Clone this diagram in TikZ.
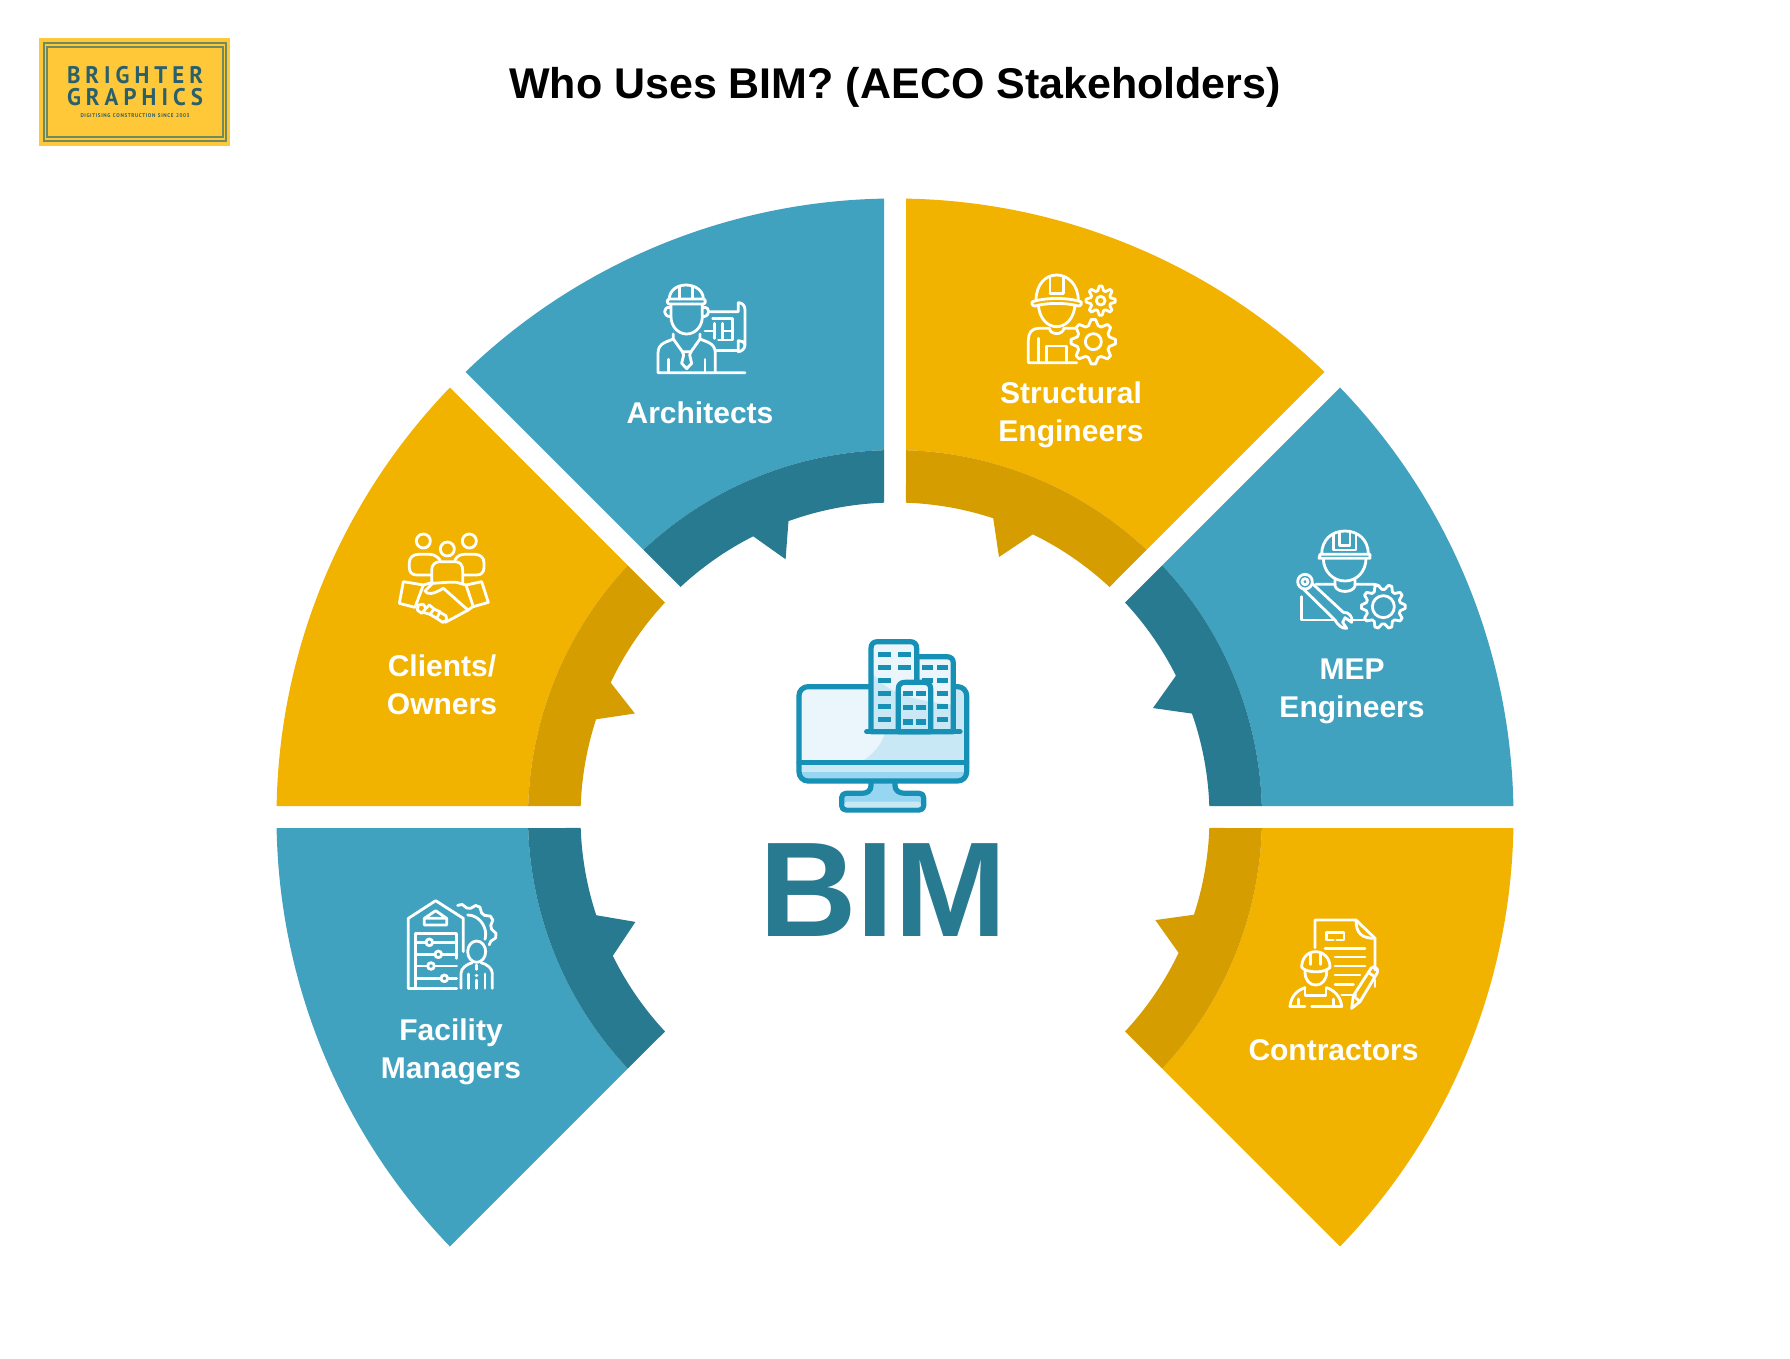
\documentclass[tikz,border=0pt]{standalone}
\usepackage{fontspec}
\setmainfont{Liberation Sans}
\newfontfamily\logofont[FakeStretch=0.95]{PT Sans}
\definecolor{gold}{HTML}{F2B200}
\definecolor{golddark}{HTML}{D69D00}
\definecolor{teal}{HTML}{41A2BF}
\definecolor{tealdark}{HTML}{287A91}
\definecolor{logobg}{HTML}{FFC838}
\definecolor{logoink}{HTML}{2A5F6C}
\definecolor{logoline}{HTML}{6F8A5F}
\definecolor{monink}{HTML}{1790B5}
\definecolor{monlight}{HTML}{EAF6FC}
\definecolor{monmid}{HTML}{C8E8F5}
\definecolor{monblue}{HTML}{97D6F0}
\tikzset{
  icon/.style={draw=white,line width=#1,line cap=round,line join=round,fill=none},
  icon/.default=2.8pt,
  crop/.style={x=0.33333pt,y=-0.33333pt},
  label/.style={font=\fontsize{30}{38}\selectfont\bfseries,text=white,align=center,inner sep=0pt},
  monline/.style={draw=monink,line width=5.2pt,line cap=round,line join=round},
}
% start, end, spike start, spike tip, spike end, light, dark
\newcommand\sectorshape[7]{%
  \fill[#6] ({#1+1.02}:618.5) arc[start angle={#1+1.02},end angle={#2-1.02},radius=618.5]
     -- ({#2-1.72}:367) arc[start angle={#2-1.72},end angle={#1+1.72},radius=367] -- cycle;
  \fill[#7] ({#1+1.72}:367) arc[start angle={#1+1.72},end angle={#2-1.72},radius=367]
     -- ({#2-2}:314.5) arc[start angle={#2-2},end angle={#5},radius=314.5]
     -- ({#4}:280) -- ({#3}:314.5) arc[start angle={#3},end angle={#1+2},radius=314.5] -- cycle;
}
% cx cy outer inner teeth rotation
\newcommand\gearicon[6]{%
  \pgfmathtruncatemacro\gearN{4*#5-1}%
  \pgfmathsetmacro\gearS{90/#5}%
  \begin{scope}[shift={(#1,#2)}]
  \draw[icon] plot[samples at={0,...,\gearN}] ({#6+\x*\gearS}:{ifthenelse(mod(\x,4)<1.5,#3,#4)}) -- cycle;
  \end{scope}}
\newcommand\bldshape[1]{%
  \begin{scope}\clip #1;
    \fill[monlight] #1;
    \fill[monmid] (300,150) -- (333,150) .. controls (360,200) and (420,240) .. (590,255) -- (590,345) -- (300,345) -- cycle;
  \end{scope}
  \draw[monline,fill=none] #1;}
\begin{document}
\begin{tikzpicture}[x=1pt,y=-1pt]
\useasboundingbox (0,0) rectangle (1790,1358);
\fill[white] (0,0) rectangle (1790,1358);

% ---- logo
\fill[logobg] (39,38) rectangle (230,146);
\draw[logoline,line width=1.2pt] (44,43) rectangle (226,141);
\draw[logoline,line width=1.2pt] (47,47) rectangle (223,137);
\node[inner sep=0pt,text=logoink,font=\logofont\bfseries\fontsize{24}{24}\selectfont] (logoa) at (135,75.5)
  {\hbox to 136pt{B\hfill R\hfill I\hfill G\hfill H\hfill T\hfill E\hfill R}};
\node[inner sep=0pt,text=logoink,font=\logofont\bfseries\fontsize{24}{24}\selectfont] (logob) at (135,97)
  {\hbox to 136pt{G\hfill R\hfill A\hfill P\hfill H\hfill I\hfill C\hfill S}};
\node[inner sep=0pt,text=logoink,font=\logofont\bfseries\fontsize{5.4}{6}\selectfont] (logoc) at (135,115.5)
  {\hbox to 109pt{D\hfill I\hfill G\hfill I\hfill T\hfill I\hfill S\hfill I\hfill N\hfill G\hfill\ \hfill C\hfill O\hfill N\hfill S\hfill T\hfill R\hfill U\hfill C\hfill T\hfill I\hfill O\hfill N\hfill\ \hfill S\hfill I\hfill N\hfill C\hfill E\hfill\ \hfill 2\hfill 0\hfill 0\hfill 3}};

% ---- title
\node[inner sep=0pt,font=\fontsize{43}{50}\selectfont\bfseries] (title) at (895,87.5) {Who Uses BIM? (AECO Stakeholders)};

% ---- sectors
\begin{scope}[shift={(895,817)},yscale=-1]
\sectorshape{-45}{0}{-25.6}{-21.6}{-18.1}{gold}{golddark}
\sectorshape{0}{45}{19.2}{22.9}{26.7}{teal}{tealdark}
\sectorshape{45}{90}{64}{68.2}{71.8}{gold}{golddark}
\sectorshape{90}{135}{109.8}{113}{116.8}{teal}{tealdark}
\sectorshape{135}{180}{154.7}{158.3}{161.9}{gold}{golddark}
\sectorshape{180}{225}{198.2}{202}{206.2}{teal}{tealdark}
\end{scope}

% ---- labels
\node[label] (arch) at (700,413) {Architects};
\node[label] (struct) at (1071,415) {Structural\\Engineers};
\node[label] (mep) at (1352,691) {MEP\\Engineers};
\node[label] (contr) at (1333.5,1050) {Contractors};
\node[label] (client) at (442,685) {Clients/\\Owners};
\node[label] (facil) at (451,1052) {Facility\\Managers};
\node[inner sep=0pt,font=\fontsize{135}{135}\selectfont\bfseries,text=tealdark] (bim) at (883,890) {BIM};

% ---- central monitor icon
\begin{scope}[shift={(760,620)},crop]
  \fill[monmid,rounded corners=9pt] (117,200) rectangle (620,483);
  \fill[monlight] (125,207) -- (330,207) -- (330,335) -- (375,335) .. controls (365,375) and (340,400) .. (310,421) -- (125,421) -- cycle;
  \fill[monblue,rounded corners=8pt] (122,457) rectangle (615,478);
  \fill[monblue] (122,457) rectangle (615,466);
  % stand
  \filldraw[monline,fill=monblue] (333,487) -- (333,497) .. controls (333,512) and (322,520) .. (305,520) -- (258,520)
     .. controls (250,520) and (245,525) .. (245,533) -- (245,557) .. controls (245,565) and (250,570) .. (258,570)
     -- (478,570) .. controls (486,570) and (491,565) .. (491,557) -- (491,533) .. controls (491,525) and (486,520) .. (478,520)
     -- (435,520) .. controls (418,520) and (405,512) .. (405,497) -- (405,487);
  \fill[monmid,rounded corners=3pt] (253,545) rectangle (483,563);
  \draw[monline] (117,428) -- (620,428);
  \draw[monline,rounded corners=9pt] (117,200) rectangle (620,483);
  % buildings
  \bldshape{(470,110) -- (560,110) .. controls (573,110) and (580,117) .. (580,130) -- (580,335) -- (470,335) -- cycle}
  \foreach \yy in {134,173,212,252,291} {\fill[monink] (530,\yy) rectangle (565,\yy+16);}
  \foreach \yy in {134,173} {\fill[monink] (486,\yy) rectangle (520,\yy+16);}
  \bldshape{(333,335) -- (333,85) .. controls (333,72) and (340,65) .. (353,65) -- (450,65) .. controls (463,65) and (470,72) .. (470,85) -- (470,335) -- cycle}
  \foreach \yy in {95,134,173,212,252,291} {\fill[monink] (355,\yy) rectangle (393,\yy+16);}
  \foreach \yy in {95,134} {\fill[monink] (414,\yy) rectangle (452,\yy+16);}
  \bldshape{(415,335) -- (415,207) .. controls (415,194) and (422,187) .. (435,187) -- (492,187) .. controls (505,187) and (512,194) .. (512,207) -- (512,335) -- cycle}
  \foreach \yy in {212,255,298} {\fill[monink] (428,\yy) rectangle (460,\yy+16); \fill[monink] (467,\yy) rectangle (499,\yy+16);}
  \draw[monline] (320,335) -- (600,335);
\end{scope}

% ---- architect icon
\begin{scope}[shift={(640,270)},crop]
  \draw[icon] (88,87) .. controls (88,62) and (110,45) .. (138,45) .. controls (166,45) and (190,62) .. (190,87);
  \draw[icon] (118,87) -- (118,50) (158,87) -- (158,50);
  \draw[icon] (88,87) -- (190,87) .. controls (198,87) and (198,102) .. (190,102) -- (88,102) .. controls (80,102) and (80,87) .. (88,87);
  \draw[icon] (93,102) -- (93,140) .. controls (93,170) and (115,192) .. (140,192) .. controls (165,192) and (187,170) .. (187,140) -- (187,102);
  \draw[icon] (90,112) .. controls (68,110) and (68,140) .. (92,140);
  \draw[icon] (190,112) .. controls (212,110) and (212,140) .. (188,140);
  \draw[icon] (100,192) -- (100,207) -- (127,245) -- (153,245) -- (180,207) -- (180,192);
  \draw[icon] (100,207) -- (75,217) .. controls (60,224) and (54,235) .. (54,250) -- (54,308) -- (315,308);
  \draw[icon] (180,207) -- (205,217) .. controls (220,224) and (226,235) .. (226,250) -- (226,308);
  \draw[icon] (85,308) -- (85,268) (195,308) -- (195,268);
  \draw[icon] (127,245) -- (131,255) -- (125,280) -- (140,296) -- (155,280) -- (149,255) -- (153,245);
  \draw[icon] (212,125) -- (295,125) (295,125) -- (295,98) .. controls (308,98) and (315,108) .. (315,120) -- (315,225) .. controls (315,235) and (305,245) .. (295,245) -- (295,212) .. controls (303,212) and (313,215) .. (315,225);
  \draw[icon] (228,242) -- (295,242);
  \draw[icon] (218,145) -- (278,145) -- (278,210) -- (235,210);
  \draw[icon] (195,183) -- (222,183) (224,160) -- (224,205) (248,160) -- (248,205) (248,183) -- (278,183);
\end{scope}

% ---- structural icon
\begin{scope}[shift={(1010,260)},crop]
  \draw[icon] (78,122) .. controls (78,75) and (105,45) .. (140,45) .. controls (175,45) and (205,75) .. (205,122);
  \draw[icon] (120,100) -- (120,52) (160,100) -- (160,52) (120,100) -- (160,100);
  \draw[icon] (66,126) .. controls (100,112) and (180,112) .. (214,126) .. controls (216,136) and (208,140) .. (200,137) .. controls (170,128) and (110,128) .. (80,137) .. controls (72,140) and (64,136) .. (66,126);
  \draw[icon] (85,135) .. controls (88,175) and (112,200) .. (140,200) .. controls (168,200) and (192,175) .. (195,135);
  \draw[icon] (200,205) -- (162,205) .. controls (158,226) and (122,226) .. (118,205) -- (85,205) .. controls (65,205) and (55,220) .. (55,240) -- (55,308) -- (200,308);
  \draw[icon] (85,235) -- (85,308) (110,308) -- (110,258) -- (170,258) -- (170,308);
  \gearicon{272}{122}{44}{31}{8}{-5.6}
  \draw[icon] (272,122) circle[radius=13];
  \gearicon{250}{245}{67}{50}{8}{-5.6}
  \draw[icon] (250,245) circle[radius=24];
\end{scope}

% ---- MEP icon
\begin{scope}[shift={(1280,515)},crop]
  \draw[icon] (125,118) .. controls (125,75) and (155,48) .. (195,48) .. controls (235,48) and (265,75) .. (265,118);
  \draw[icon] (160,60) -- (160,105) -- (228,105) -- (228,60) (178,50) -- (178,92) -- (210,92) -- (210,50);
  \draw[icon] (120,118) -- (270,118) -- (270,130) -- (117,130) -- cycle;
  \draw[icon] (130,130) .. controls (130,170) and (160,198) .. (195,198) .. controls (230,198) and (258,170) .. (258,130);
  \draw[icon] (165,190) -- (165,212) .. controls (170,235) and (220,235) .. (225,212) -- (225,190);
  \draw[icon] (108,208) -- (165,208) (225,208) -- (280,208) .. controls (288,208) and (294,210) .. (298,214);
  \draw[icon] (65,245) -- (65,315) -- (160,315) (210,315) -- (262,315);
  \draw[icon] (75,200) circle[radius=22] (75,200) circle[radius=9];
  \draw[icon] (70,222) -- (165,315) .. controls (172,328) and (185,342) .. (200,340) -- (188,322) -- (195,308) -- (215,322) .. controls (220,305) and (205,290) .. (190,292) -- (96,205);
  \gearicon{310}{275}{66}{52}{10}{-4.5}
  \draw[icon] (310,275) circle[radius=33];
\end{scope}

% ---- contractors icon
\begin{scope}[shift={(1270,905)},crop]
  \draw[icon] (135,128) -- (135,45) -- (258,45) -- (315,100) -- (315,195);
  \draw[icon] (258,45) .. controls (258,85) and (275,100) .. (315,100);
  \draw[icon] (215,270) -- (258,270) (315,225) -- (315,245) (170,82) -- (222,82) -- (222,105) -- (200,105) (190,105) -- (170,105) -- (170,82);
  \draw[icon] (165,130) -- (285,130) (195,156) -- (285,156) (195,183) -- (285,183) (195,210) -- (270,210) (195,238) -- (250,238);
  \draw[icon] (95,187) .. controls (95,160) and (112,140) .. (137,140) .. controls (162,140) and (180,160) .. (180,187);
  \draw[icon] (122,178) -- (122,145) (152,178) -- (152,145);
  \draw[icon] (95,187) .. controls (110,205) and (165,205) .. (180,187);
  \draw[icon] (105,200) .. controls (105,225) and (118,240) .. (137,240) .. controls (156,240) and (170,225) .. (170,200);
  \draw[icon] (60,305) .. controls (62,280) and (75,258) .. (105,248) (170,248) .. controls (198,258) and (213,280) .. (215,305);
  \draw[icon] (105,248) -- (105,272) -- (168,272) -- (168,248);
  \draw[icon] (60,305) -- (105,305) (125,305) -- (215,305) (85,305) -- (85,282) (190,305) -- (190,282);
  \draw[icon] (245,310) -- (250,272) -- (303,190) .. controls (310,180) and (328,190) .. (322,203) -- (270,290) -- cycle;
  \draw[icon] (250,272) -- (270,290) (295,203) -- (315,215);
\end{scope}

% ---- clients icon
\begin{scope}[shift={(390,525)},crop]
  \draw[icon] (100,48) circle[radius=21] (172,72) circle[radius=21] (238,48) circle[radius=21];
  \draw[icon] (125,150) -- (80,150) .. controls (65,150) and (58,140) .. (58,128) -- (58,112) .. controls (58,98) and (70,88) .. (85,88) -- (120,88) .. controls (132,88) and (142,95) .. (150,105);
  \draw[icon] (195,105) .. controls (200,95) and (210,88) .. (222,88) -- (255,88) .. controls (270,88) and (282,98) .. (282,112) -- (282,128) .. controls (282,140) and (275,150) .. (260,150) -- (220,150);
  \draw[icon] (125,172) -- (125,135) .. controls (125,120) and (135,110) .. (150,110) -- (195,110) .. controls (210,110) and (218,120) .. (218,135) -- (218,172);
  \draw[icon] (40,170) -- (28,235) -- (75,247) -- (100,180) -- cycle;
  \draw[icon] (228,180) -- (275,170) -- (295,232) -- (250,245) -- cycle;
  \draw[icon] (100,180) -- (128,172) (172,172) -- (200,172) -- (228,180);
  \draw[icon] (170,172) -- (128,175) -- (105,198) .. controls (112,210) and (130,208) .. (160,190) .. controls (190,215) and (215,240) .. (235,255) -- (248,245);
  \draw[icon] (235,255) .. controls (215,265) and (190,280) .. (165,292);
  \draw[icon] (85,240) -- (100,238) -- (108,250) -- (95,265) -- (82,255) -- cycle;
  \draw[icon] (108,250) -- (118,240) -- (132,252) -- (120,268) -- (100,262);
  \draw[icon] (132,252) -- (150,260) -- (140,280) -- (120,268);
  \draw[icon] (150,262) -- (168,272) -- (170,285) -- (158,292) -- (140,280);
\end{scope}

% ---- facility icon
\begin{scope}[shift={(395,890)},crop]
  \draw[icon] (40,295) -- (40,85) -- (122,32) -- (205,85) -- (205,185);
  \draw[icon] (122,62) -- (88,85) -- (88,105) -- (155,105) -- (155,85) -- cycle (88,85) -- (155,85);
  \draw[icon] (185,205) -- (185,130) -- (62,130) -- (62,295) (40,295) -- (185,295);
  \draw[icon] (62,157) -- (93,157) (113,157) -- (185,157);
  \draw[icon] (62,193) -- (120,193) (140,193) -- (185,193);
  \draw[icon] (62,228) -- (98,228) (118,228) -- (185,228);
  \draw[icon] (62,265) -- (138,265) (158,265) -- (185,265);
  \draw[icon] (103,157) circle[radius=10] (130,193) circle[radius=10] (108,228) circle[radius=10] (148,265) circle[radius=10];
  \draw[icon] (218,75) .. controls (250,75) and (272,105) .. (272,132) .. controls (272,138) and (271,144) .. (270,148);
  \begin{scope}[shift={(215,130)}]
    \draw[icon] plot[samples at={0,...,15}] ({-108+\x*9}:{ifthenelse(mod(\x,4)<1.5,88,76)});
  \end{scope}
  \draw[icon] (245,185) ellipse[x radius=27,y radius=32];
  \draw[icon] (198,295) -- (198,250) .. controls (198,235) and (215,222) .. (232,218) (258,218) .. controls (275,222) and (292,235) .. (292,250) -- (292,295);
  \draw[icon] (220,295) -- (220,252) (270,295) -- (270,252) (245,225) -- (245,238) (245,270) -- (245,295) (243,256) -- (246,256);
\end{scope}
\end{tikzpicture}
\end{document}
